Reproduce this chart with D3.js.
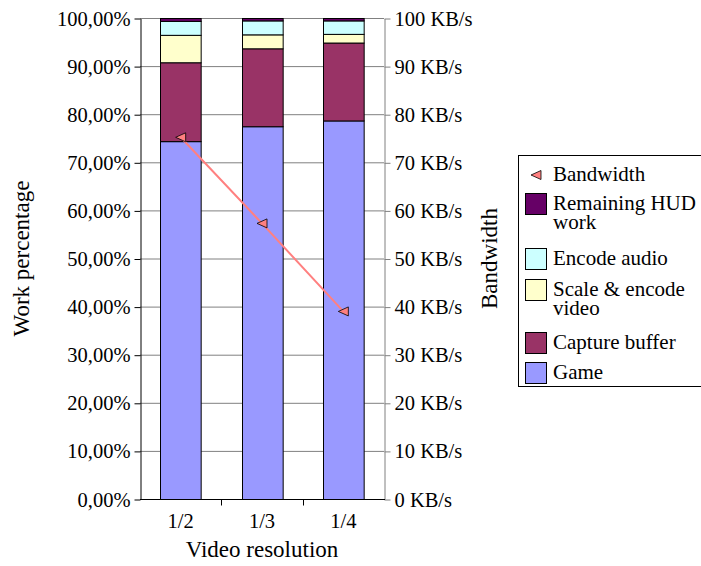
<!DOCTYPE html>
<html>
<head>
<meta charset="utf-8">
<script src="https://cdn.jsdelivr.net/npm/d3@7"></script>
<style>
  html, body { margin: 0; padding: 0; background: #fff; }
  svg { display: block; }
  text { font-family: "Liberation Serif", "Times New Roman", serif; fill: #000; }
</style>
</head>
<body>
<div id="chart"></div>
<script>
// Video resolutions on the category axis
const categories = ["1/2", "1/3", "1/4"];

// Share of the frame work (percent) per component, stacked bottom to top
const game = [74.4, 77.5, 78.7];
const captureBuffer = [16.4, 16.2, 16.2];
const scaleEncodeVideo = [5.7, 2.9, 1.8];
const encodeAudio = [2.9, 2.9, 2.8];
const remainingHud = [0.6, 0.5, 0.5];

// Stream bandwidth in KB/s (secondary axis)
const bandwidth = [75.3, 57.4, 39.1];

// Axis tick values
const percentTicks = [0, 10, 20, 30, 40, 50, 60, 70, 80, 90, 100];
const bandwidthTicks = [0, 10, 20, 30, 40, 50, 60, 70, 80, 90, 100];

const seriesInfo = [
  { key: "game", name: "Game", values: game, color: "#9999FF" },
  { key: "capture", name: "Capture buffer", values: captureBuffer, color: "#993366" },
  { key: "scale", name: "Scale & encode video", values: scaleEncodeVideo, color: "#FFFFCC" },
  { key: "audio", name: "Encode audio", values: encodeAudio, color: "#CCFFFF" },
  { key: "hud", name: "Remaining HUD work", values: remainingHud, color: "#660066" }
];

const W = 701, H = 566;
const plot = { left: 140, right: 384, top: 18, bottom: 499 };

const svg = d3.select("#chart").append("svg")
  .attr("width", W).attr("height", H);
svg.append("rect").attr("width", W).attr("height", H).attr("fill", "#fff");

const rows = categories.map((c, i) => {
  const r = { category: c };
  seriesInfo.forEach(s => { r[s.key] = s.values[i]; });
  return r;
});

const x = d3.scaleBand().domain(categories)
  .range([plot.left, plot.right]).paddingInner(0.5).paddingOuter(0.25);
const y = d3.scaleLinear().domain([0, 100]).range([plot.bottom + 0.5, plot.top + 0.5]);
const yBw = d3.scaleLinear().domain([0, 100]).range([plot.bottom + 0.5, plot.top + 0.5]);

// Horizontal gridlines
svg.append("g").selectAll("line").data(percentTicks.filter(t => t > 0)).join("line")
  .attr("x1", plot.left).attr("x2", plot.right)
  .attr("y1", d => y(d)).attr("y2", d => y(d))
  .attr("stroke", "#808080").attr("stroke-width", 1);

// Stacked bars
const stack = d3.stack().keys(seriesInfo.map(s => s.key));
const stacked = stack(rows);
const colorOf = Object.fromEntries(seriesInfo.map(s => [s.key, s.color]));

svg.append("g").selectAll("g").data(stacked).join("g")
  .attr("fill", d => colorOf[d.key])
  .selectAll("rect").data(d => d).join("rect")
  .attr("x", d => Math.round(x(d.data.category)) + 0.5)
  .attr("width", x.bandwidth())
  .attr("y", d => y(d[1]))
  .attr("height", d => y(d[0]) - y(d[1]))
  .attr("stroke", "#000").attr("stroke-width", 1);

const fmtPct = v => d3.format(".2f")(v).replace(".", ",") + "%";

// Left axis
const leftAxis = svg.append("g")
  .attr("transform", `translate(${plot.left + 0.5},0)`)
  .call(d3.axisLeft(y).tickValues(percentTicks).tickSize(6).tickSizeOuter(0).tickPadding(4).tickFormat(fmtPct));
leftAxis.select(".domain").attr("stroke", "#000");
leftAxis.selectAll(".tick line").attr("stroke", "#000");
leftAxis.selectAll(".tick text")
  .style("font-family", '"Liberation Serif", serif').style("font-size", "20.5px").attr("fill", "#000");

// Right axis (bandwidth)
const rightAxis = svg.append("g")
  .attr("transform", `translate(${plot.right + 0.5},0)`)
  .call(d3.axisRight(yBw).tickValues(bandwidthTicks).tickSize(6).tickSizeOuter(0).tickPadding(4)
    .tickFormat(v => v + " KB/s"));
rightAxis.select(".domain").attr("stroke", "#808080");
rightAxis.selectAll(".tick line").attr("stroke", "#808080");
rightAxis.selectAll(".tick text")
  .style("font-family", '"Liberation Serif", serif').style("font-size", "20.5px").attr("fill", "#000");

// Bottom axis: baseline, category labels, and tick marks between categories
const baseY = y(0);
svg.append("line")
  .attr("x1", plot.left).attr("x2", plot.right + 1)
  .attr("y1", baseY).attr("y2", baseY)
  .attr("stroke", "#000").attr("stroke-width", 1);

const boundaries = categories.slice(0, -1)
  .map(c => x(c) + x.bandwidth() + x.step() * x.paddingInner() / 2);
svg.append("g").selectAll("line").data(boundaries).join("line")
  .attr("x1", d => Math.round(d) + 0.5).attr("x2", d => Math.round(d) + 0.5)
  .attr("y1", baseY).attr("y2", baseY + 6)
  .attr("stroke", "#000");

svg.append("g").selectAll("text").data(categories).join("text")
  .attr("x", d => x(d) + x.bandwidth() / 2)
  .attr("y", 528)
  .attr("text-anchor", "middle")
  .style("font-size", "20.5px")
  .text(d => d);

// Bandwidth line with left-pointing triangle markers
const bwPoints = categories.map((c, i) => [x(c) + x.bandwidth() / 2, yBw(bandwidth[i])]);
svg.append("path")
  .attr("d", d3.line()(bwPoints))
  .attr("fill", "none").attr("stroke", "#FF8080").attr("stroke-width", 2);

const triangle = "M-5,0L5,-4.5L5,4.5Z";
svg.append("g").selectAll("path").data(bwPoints).join("path")
  .attr("transform", d => `translate(${d[0]},${d[1]})`)
  .attr("d", triangle)
  .attr("fill", "#FF8080").attr("stroke", "#000").attr("stroke-width", 0.8);

// Axis titles
svg.append("text")
  .attr("transform", `translate(29,${(plot.top + plot.bottom) / 2}) rotate(-90)`)
  .attr("text-anchor", "middle").style("font-size", "23px")
  .text("Work percentage");
svg.append("text")
  .attr("transform", `translate(497,${(plot.top + plot.bottom) / 2}) rotate(-90)`)
  .attr("text-anchor", "middle").style("font-size", "23px")
  .text("Bandwidth");
svg.append("text")
  .attr("x", (plot.left + plot.right) / 2).attr("y", 557)
  .attr("text-anchor", "middle").style("font-size", "23px")
  .text("Video resolution");

// Legend
const legend = svg.append("g");
legend.append("rect")
  .attr("x", 518.5).attr("y", 155.5).attr("width", 200).attr("height", 231)
  .attr("fill", "#fff").attr("stroke", "#000").attr("stroke-width", 1);

const legendItems = [
  { type: "marker", lines: ["Bandwidth"], color: "#FF8080", baseline: 181 },
  { type: "swatch", lines: ["Remaining HUD", "work"], color: colorOf.hud, baseline: 210 },
  { type: "swatch", lines: ["Encode audio"], color: colorOf.audio, baseline: 265 },
  { type: "swatch", lines: ["Scale & encode", "video"], color: colorOf.scale, baseline: 296 },
  { type: "swatch", lines: ["Capture buffer"], color: colorOf.capture, baseline: 349 },
  { type: "swatch", lines: ["Game"], color: colorOf.game, baseline: 379 }
];

legendItems.forEach(item => {
  const cy = item.baseline - 6;
  if (item.type === "marker") {
    legend.append("path")
      .attr("transform", `translate(536,${cy})`)
      .attr("d", triangle)
      .attr("fill", item.color).attr("stroke", "#000").attr("stroke-width", 0.8);
  } else {
    legend.append("rect")
      .attr("x", 525.5).attr("y", cy - 10.5).attr("width", 21).attr("height", 21)
      .attr("fill", item.color).attr("stroke", "#000").attr("stroke-width", 1);
  }
  item.lines.forEach((ln, i) => {
    legend.append("text")
      .attr("x", 553).attr("y", item.baseline + i * 19)
      .style("font-size", "21px")
      .text(ln);
  });
});
</script>
</body>
</html>
